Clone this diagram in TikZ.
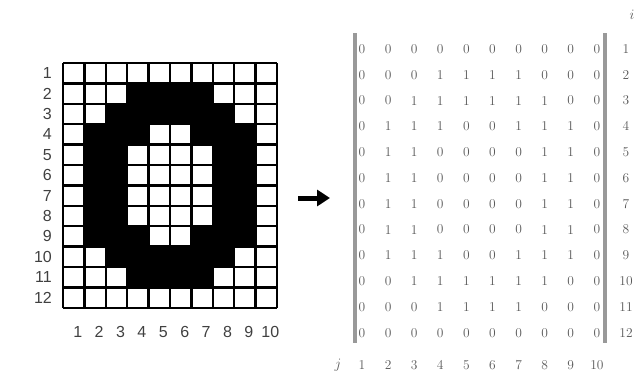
\documentclass[tikz,border=0pt]{standalone}
\usepackage{fontspec}
\newfontfamily\labelfont{Liberation Sans}
\usetikzlibrary{arrows.meta}

\begin{document}
\begin{tikzpicture}[x=1pt, y=-1pt]
\useasboundingbox (0,0) rectangle (641,378);
\tikzset{
  gridlbl/.style={font=\labelfont\fontsize{16}{16}\selectfont, text=black!75, inner sep=0pt},
  entry/.style={font=\fontsize{13.5}{13.5}\selectfont, text=black!65, inner sep=0pt},
  gridline/.style={line width=2.3pt},
  bracket/.style={line width=3.2pt, draw=black!40},
}
\def\cw{21.4}
\def\ch{20.4}
% pixel image of the digit and its matrix
\foreach \row [count=\i] in {{0,0,0,0,0,0,0,0,0,0},{0,0,0,1,1,1,1,0,0,0},{0,0,1,1,1,1,1,1,0,0},
  {0,1,1,1,0,0,1,1,1,0},{0,1,1,0,0,0,0,1,1,0},{0,1,1,0,0,0,0,1,1,0},{0,1,1,0,0,0,0,1,1,0},
  {0,1,1,0,0,0,0,1,1,0},{0,1,1,1,0,0,1,1,1,0},{0,0,1,1,1,1,1,1,0,0},{0,0,0,1,1,1,1,0,0,0},
  {0,0,0,0,0,0,0,0,0,0}} {
  \foreach \v [count=\j] in \row {
    \ifnum\v=1
      \fill ({63+\cw*(\j-1)}, {63+\ch*(\i-1)}) rectangle +(\cw,\ch);
    \fi
    \node[entry] (m\i-\j) at ({362+26.1*(\j-1)}, {49+25.8*(\i-1)}) {\v};
  }
}
\foreach \k in {0,...,10}
  \draw[gridline] ({63+\cw*\k},63) -- ({63+\cw*\k},{63+12*\ch});
\foreach \k in {0,...,12}
  \draw[gridline] (63,{63+\ch*\k}) -- ({63+10*\cw},{63+\ch*\k});
% indices
\foreach \i in {1,...,12} {
  \node[gridlbl, anchor=east] (r\i) at (52, {63+\ch*(\i-0.5)}) {\i};
  \node[entry] (ri\i) at (626, {49+25.8*(\i-1)}) {\i};
}
\foreach \j in {1,...,10} {
  \node[gridlbl] (c\j) at ({67+\cw*(\j-0.5)}, 332) {\j};
  \node[entry] (cj\j) at ({362+26.1*(\j-1)}, 365) {\j};
}
\node[entry] (ilbl) at (632,15) {$i$};
\node[entry] (jlbl) at (338,365) {$j$};
% brackets
\coordinate (lbtop) at (355,33);
\coordinate (lbbot) at (355,343);
\coordinate (rbtop) at (605,33);
\coordinate (rbbot) at (605,343);
\draw[bracket] (lbtop) -- (lbbot);
\draw[bracket] (rbtop) -- (rbbot);
% arrow
\coordinate (arrowtail) at (298,198);
\coordinate (arrowtip) at (330,198);
\draw[line width=5pt, -{Triangle[length=13pt,width=16pt]}] (arrowtail) -- (arrowtip);
\end{tikzpicture}
\end{document}
